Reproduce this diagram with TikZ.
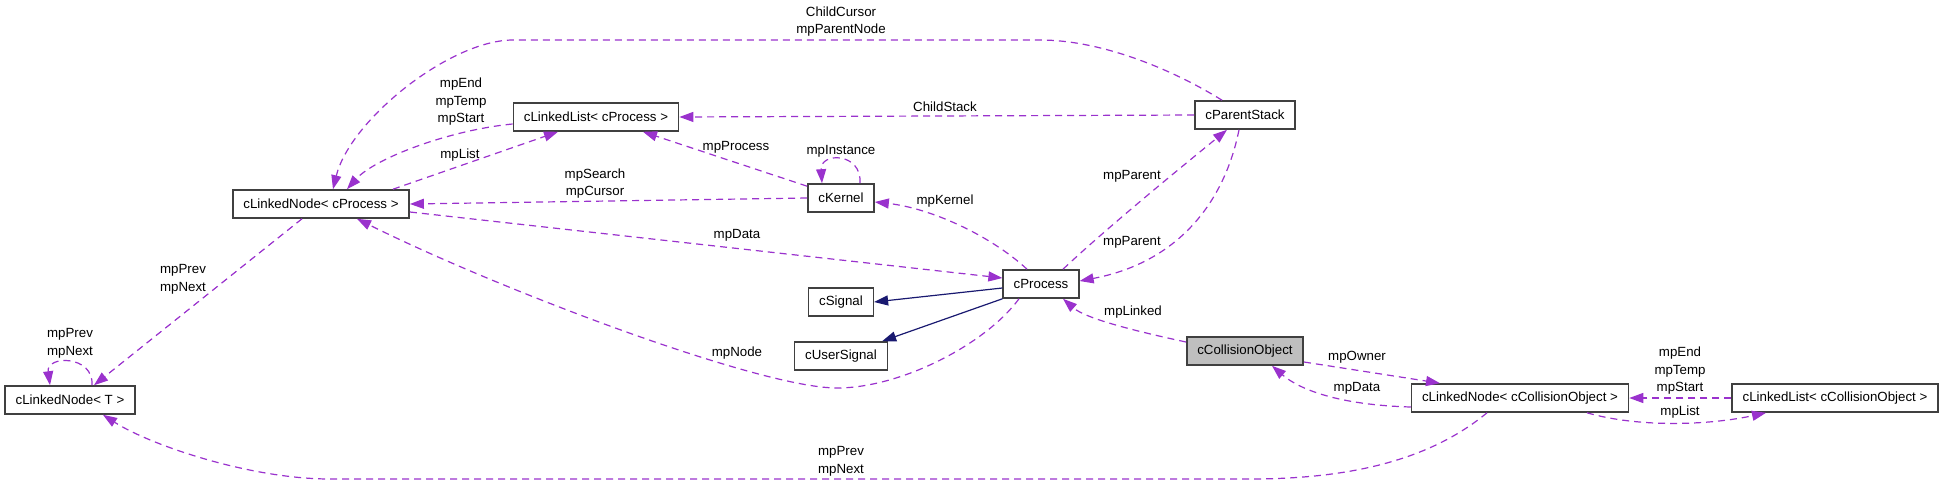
\documentclass[tikz,border=0pt]{standalone}
\usepackage{fontspec}
\setmainfont{Liberation Sans}
\usetikzlibrary{arrows.meta}
\definecolor{edgepurple}{HTML}{9A32CD}
\definecolor{inhblue}{HTML}{191970}
\definecolor{boxgray}{HTML}{404040}
\definecolor{fillgray}{HTML}{BFBFBF}

\begin{document}
\begin{tikzpicture}[x=1pt,y=-1pt,
  cls/.style={draw=boxgray,line width=1.6pt,fill=white,minimum height=28pt,inner xsep=10.5pt,font=\fontsize{13.3}{16}\selectfont},
  edge/.style={draw=edgepurple,line width=1.2pt,dash pattern=on 7pt off 5pt,-{Triangle[length=14pt,width=10pt]}},
  inh/.style={draw=inhblue,line width=1.2pt,-{Triangle[length=14pt,width=10pt]}},
  lbl/.style={inner sep=0pt,align=center,font=\fontsize{13.3}{17.5}\selectfont}]
\useasboundingbox (0,0) rectangle (1944,485);

% classes
\node[cls] (lnp) at (321,204) {cLinkedNode< cProcess >};
\node[cls] (llp) at (596,117) {cLinkedList< cProcess >};
\node[cls] (pst) at (1245,115) {cParentStack};
\node[cls] (ker) at (841,198) {cKernel};
\node[cls] (pro) at (1041,284) {cProcess};
\node[cls] (sig) at (841,302) {cSignal};
\node[cls] (usig) at (841,356) {cUserSignal};
\node[cls,fill=fillgray] (col) at (1245,351) {cCollisionObject};
\node[cls] (lnt) at (70,400) {cLinkedNode< T >};
\node[cls] (lnc) at (1520,398) {cLinkedNode< cCollisionObject >};
\node[cls] (llc) at (1835,398) {cLinkedList< cCollisionObject >};

% members
\draw[edge] ([xshift=-23pt]pst.north) .. controls (1170,68) and (1100,40) .. (1040,40) -- (513,40) .. controls (450,40) and (350,120) .. ([xshift=12pt]lnp.north);
\draw[edge] (pst.west) -- (llp.east);
\draw[edge] ([yshift=-7pt]llp.west) .. controls (450,130) and (375,158) .. ([xshift=26pt]lnp.north);
\draw[edge] ([xshift=72pt]lnp.north) -- ([xshift=-38pt]llp.south);
\draw[edge] ([yshift=-3pt]ker.north west) -- ([xshift=47pt]llp.south);
\draw[edge] ([xshift=19pt]ker.north) .. controls (862,152) and (820,152) .. ([xshift=-19pt]ker.north);
\draw[edge] (ker.west) -- (lnp.east);
\draw[edge] ([yshift=-8pt]lnp.east) -- ([yshift=6pt]pro.west);
\draw[edge] ([xshift=-14pt]pro.north) .. controls (990,235) and (930,208) .. ([yshift=-4pt]ker.east);
\draw[edge] ([xshift=22pt]pro.north) .. controls (1110,225) and (1190,160) .. ([xshift=-18pt]pst.south);
\draw[edge] ([xshift=-6pt]pst.south) .. controls (1225,200) and (1180,262) .. ([yshift=3pt]pro.east);
\draw[edge] ([yshift=9pt]col.west) .. controls (1130,330) and (1085,318) .. ([xshift=22pt]pro.south);
\draw[edge] ([xshift=-22pt]pro.south) .. controls (985,345) and (900,388) .. (837,388) .. controls (760,388) and (500,290) .. ([xshift=36pt]lnp.south);
\draw[edge] ([xshift=-19pt]lnp.south) -- ([xshift=24pt]lnt.north);
\draw[edge] ([xshift=22pt]lnt.north) .. controls (94,355) and (46,355) .. ([xshift=-20pt]lnt.north);
\draw[edge] ([xshift=-33pt]lnc.south) .. controls (1430,460) and (1350,479) .. (1250,479) -- (330,479) .. controls (250,479) and (150,445) .. ([xshift=33pt]lnt.south);
\draw[edge] ([yshift=-11pt]col.east) -- ([xshift=-80pt]lnc.north);
\draw[edge] ([yshift=-9pt]lnc.west) .. controls (1340,405) and (1300,390) .. ([xshift=27pt]col.south);
\draw[edge] (llc.west) -- (lnc.east);
\draw[edge] ([xshift=67pt]lnc.south) .. controls (1640,428) and (1710,425) .. ([xshift=-69pt]llc.south);

% inheritance
\draw[inh] ([yshift=-4pt]pro.west) -- (sig.east);
\draw[inh] (pro.south west) -- ([xshift=-6pt]usig.north east);

% labels
\node[lbl] (lcursor) at (841,21.5) {ChildCursor\\mpParentNode};
\node[lbl] (lstack) at (945,107) {ChildStack};
\node[lbl] (lends) at (461,102) {mpEnd\\mpTemp\\mpStart};
\node[lbl] (llist) at (460,155) {mpList};
\node[lbl] (lsearch) at (595,183.5) {mpSearch\\mpCursor};
\node[lbl] (lproc) at (736,147) {mpProcess};
\node[lbl] (linst) at (841,151) {mpInstance};
\node[lbl] (lkern) at (945,201) {mpKernel};
\node[lbl] (lpar) at (1132,176) {mpParent};
\node[lbl] (lpartwo) at (1132,242) {mpParent};
\node[lbl] (ldata) at (737,235) {mpData};
\node[lbl] (llinked) at (1133,312) {mpLinked};
\node[lbl] (lnode) at (737,353) {mpNode};
\node[lbl] (lprev) at (183,279.5) {mpPrev\\mpNext};
\node[lbl] (lprevself) at (70,343.5) {mpPrev\\mpNext};
\node[lbl] (lprevbot) at (841,461.5) {mpPrev\\mpNext};
\node[lbl] (lowner) at (1357,357) {mpOwner};
\node[lbl] (ldatatwo) at (1357,388) {mpData};
\node[lbl] (lendstwo) at (1680,371) {mpEnd\\mpTemp\\mpStart};
\node[lbl] (llisttwo) at (1680,412) {mpList};
\end{tikzpicture}
\end{document}
